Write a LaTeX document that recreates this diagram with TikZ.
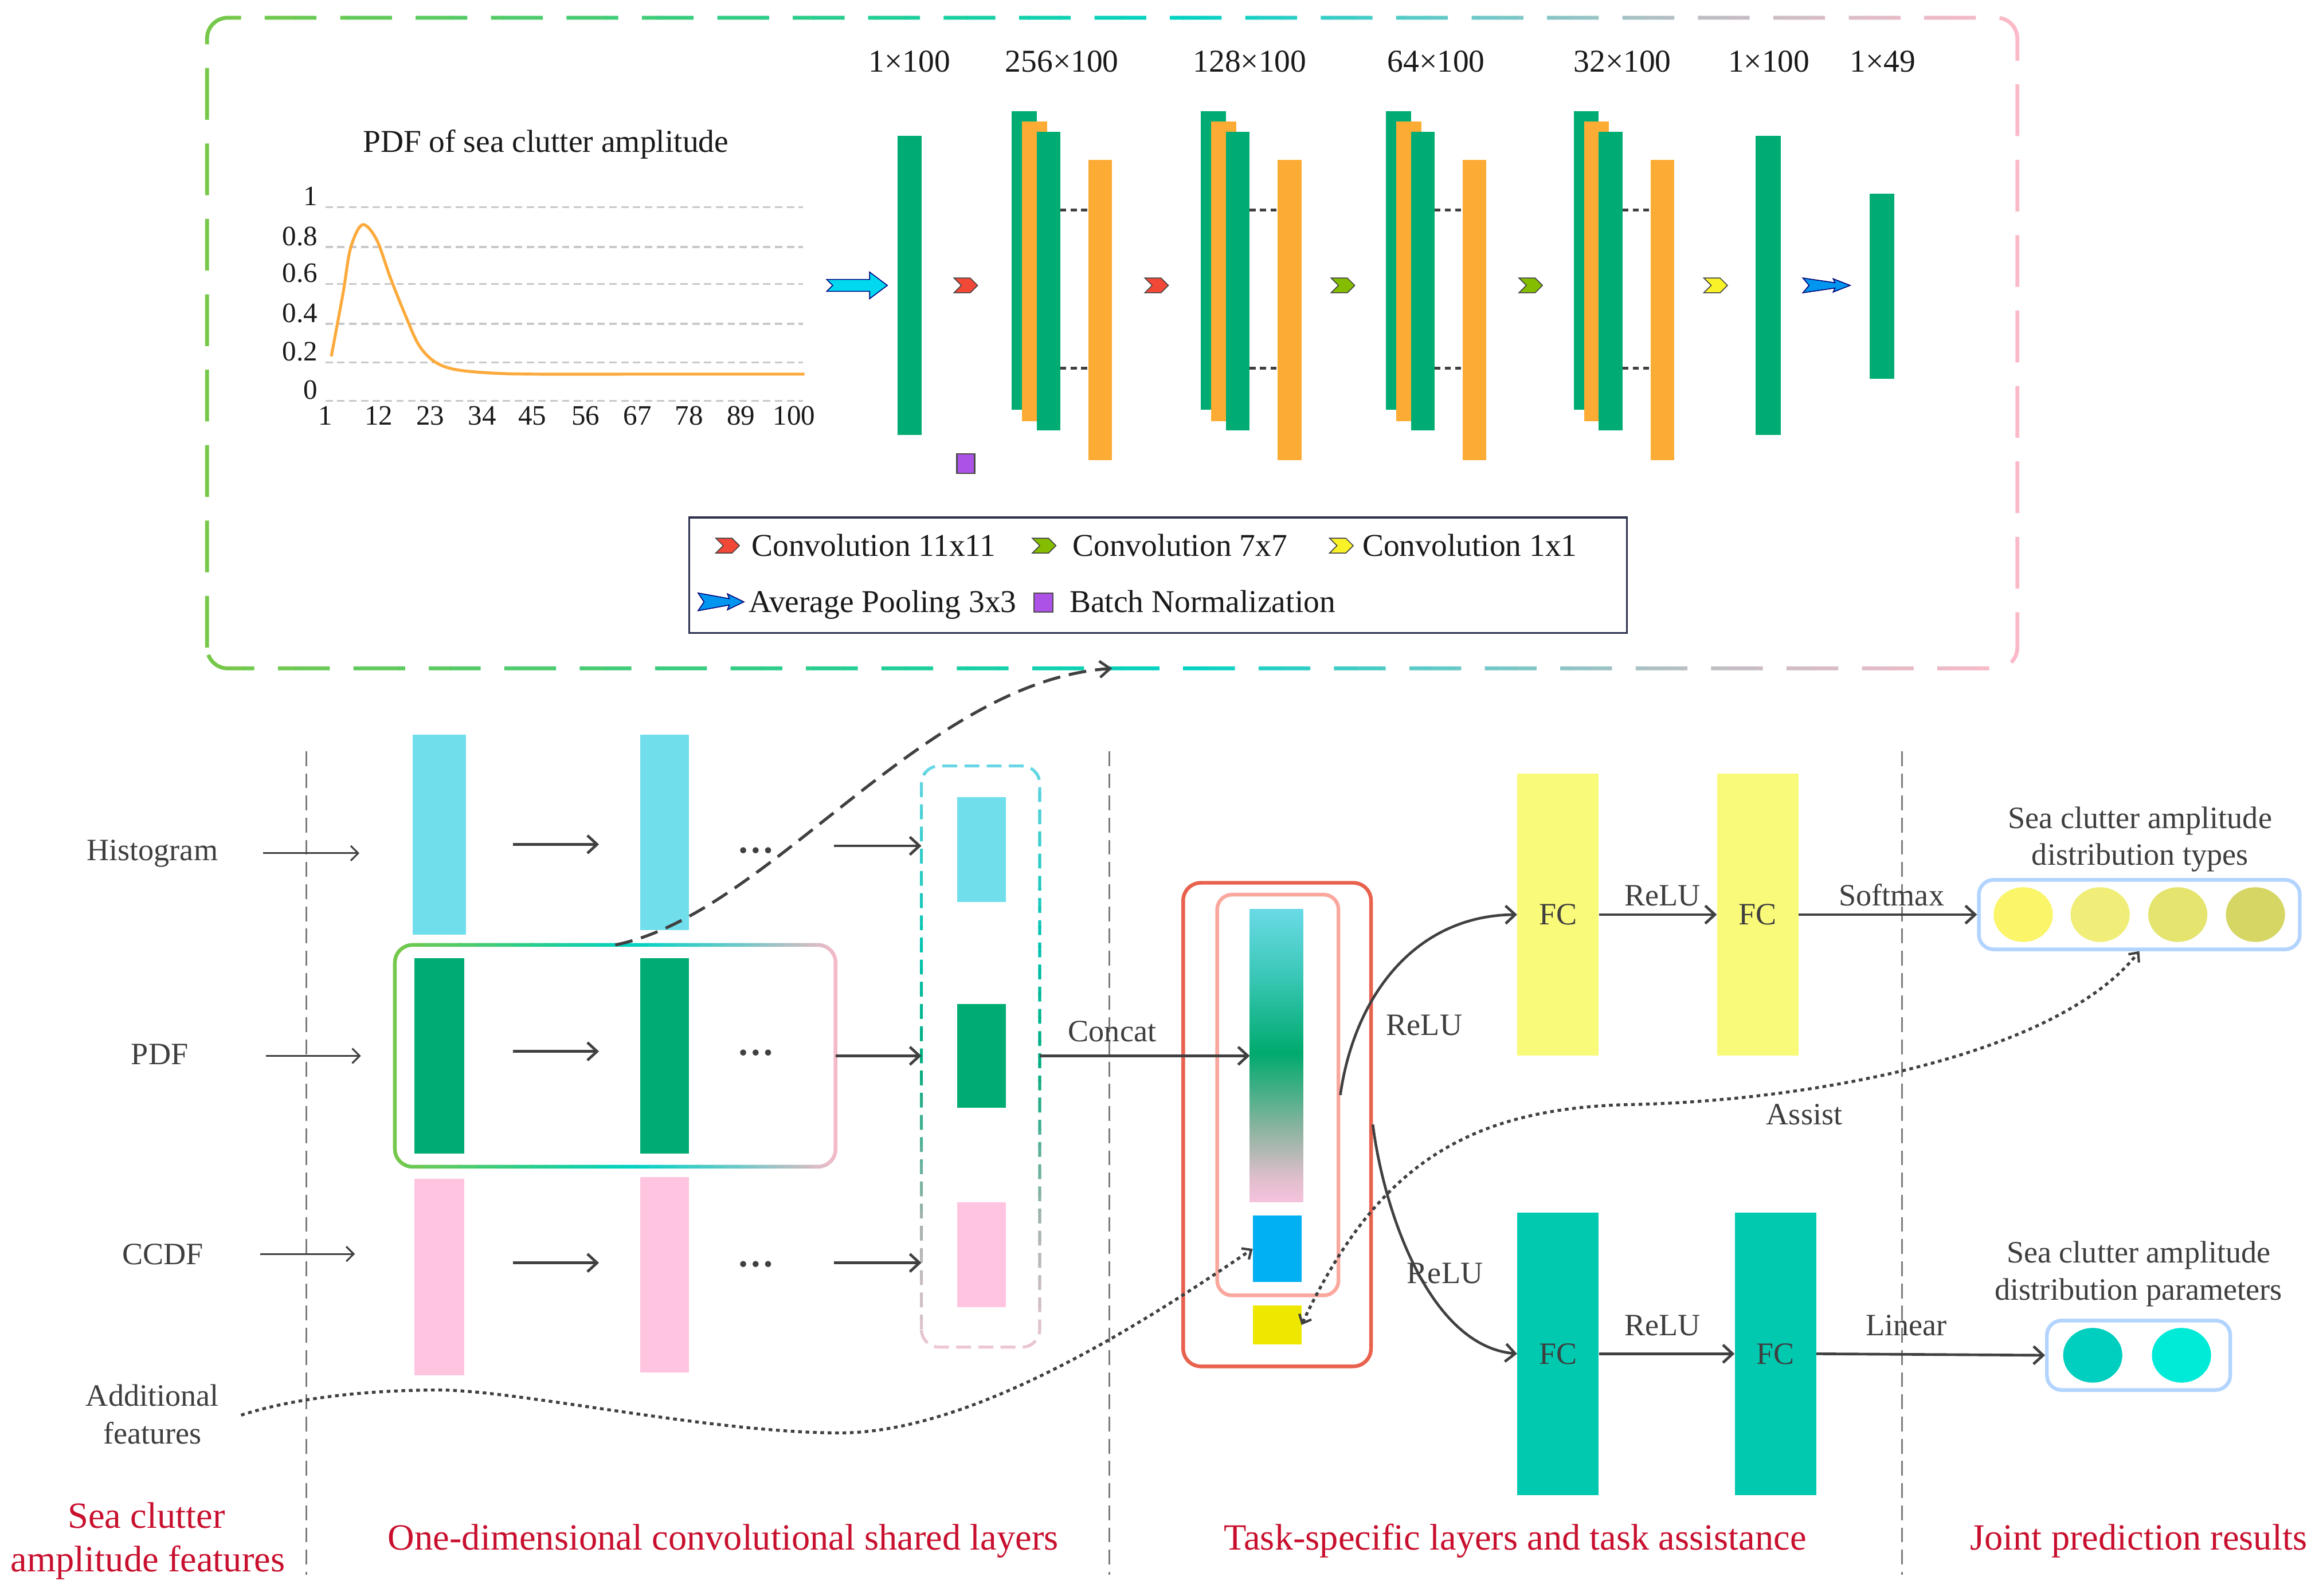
\documentclass[tikz,border=0pt]{standalone}
\usepackage{fontspec}
\setmainfont{Liberation Serif}
\usetikzlibrary{arrows.meta,shapes.geometric,calc}

\definecolor{cgreen}{RGB}{0,172,115}
\definecolor{corange}{RGB}{252,172,52}
\definecolor{ccyan}{RGB}{112,222,235}
\definecolor{cpink}{RGB}{255,196,224}
\definecolor{cfcy}{RGB}{250,250,122}
\definecolor{cfct}{RGB}{0,201,176}
\definecolor{cred}{RGB}{200,16,46}
\definecolor{ctext}{RGB}{62,62,62}
\definecolor{cline}{RGB}{64,64,64}
\definecolor{csep}{RGB}{125,125,125}
\definecolor{cgrid}{RGB}{200,200,200}
\definecolor{ccurve}{RGB}{253,170,60}
\definecolor{credbox}{RGB}{232,98,78}
\definecolor{cpinkbox}{RGB}{250,168,158}
\definecolor{cblue}{RGB}{0,176,242}
\definecolor{cyel}{RGB}{238,232,0}
\definecolor{ccircb}{RGB}{178,212,255}
\definecolor{cpurple}{RGB}{172,82,230}
\definecolor{cchr}{RGB}{242,72,56}
\definecolor{cchg}{RGB}{132,188,0}
\definecolor{cchy}{RGB}{250,242,40}
\definecolor{carrc}{RGB}{0,216,240}
\definecolor{carrb}{RGB}{0,150,240}
\definecolor{cnavy}{RGB}{45,50,80}
\definecolor{ct1}{RGB}{250,245,105}
\definecolor{ct2}{RGB}{240,238,120}
\definecolor{ct3}{RGB}{228,228,110}
\definecolor{ct4}{RGB}{214,214,100}
\definecolor{cp1}{RGB}{0,206,190}
\definecolor{cp2}{RGB}{0,234,216}
\definecolor{gA}{RGB}{122,200,70}
\definecolor{gB}{RGB}{40,205,140}
\definecolor{gC}{RGB}{0,210,195}
\definecolor{gD}{RGB}{110,200,200}
\definecolor{gE}{RGB}{190,190,195}
\definecolor{gF}{RGB}{255,185,200}
\definecolor{vA}{RGB}{110,215,232}
\definecolor{vB}{RGB}{0,195,175}
\definecolor{vC}{RGB}{0,172,125}
\definecolor{vD}{RGB}{165,178,175}
\definecolor{vE}{RGB}{242,200,215}
\definecolor{gs0}{RGB}{245,195,222}
\definecolor{gs1}{RGB}{225,190,205}
\definecolor{gs2}{RGB}{140,180,160}
\definecolor{gs3}{RGB}{0,170,110}
\definecolor{gs4}{RGB}{60,200,185}
\definecolor{gs5}{RGB}{105,218,230}
\pgfdeclareverticalshading{gbarshade}{100bp}{color(0bp)=(gs0); color(25bp)=(gs0); color(29bp)=(gs1); color(37.5bp)=(gs2); color(50.5bp)=(gs3); color(64bp)=(gs4); color(75bp)=(gs5); color(100bp)=(gs5)}

\newcommand\rbar[6]{\node[bar,fill=#6,minimum width={(#4)-(#2)},minimum height={(#5)-(#3)}] (#1) at ({((#2)+(#4))/2},{((#3)+(#5))/2}) {};}
\newcommand\chev[3]{\filldraw[chevline,fill=#3] ({#1-8},{#2-5}) -- ({#1+3},{#2-5}) -- ({#1+8},{#2}) -- ({#1+3},{#2+5}) -- ({#1-8},{#2+5}) -- ({#1-3},{#2}) -- cycle;}
\newcommand\poolarr[4]{\filldraw[draw=blue!45!black,line width=0.6pt,fill=carrb] ({#1},{#2-#4/2}) -- ({#1+0.68*#3},{#2-#4*0.18}) -- ({#1+0.64*#3},{#2-#4*0.45}) -- ({#1+#3},{#2}) -- ({#1+0.64*#3},{#2+#4*0.45}) -- ({#1+0.68*#3},{#2+#4*0.18}) -- ({#1},{#2+#4/2}) -- ({#1+0.13*#3},{#2}) -- cycle;}
\newcommand\grp[2]{%
 \rbar{#1a}{#2}{75}{#2+17}{277}{cgreen}
 \rbar{#1b}{#2+7}{82}{#2+24}{285}{corange}
 \rbar{#1c}{#2+17}{89}{#2+33}{291}{cgreen}
 \rbar{#1d}{#2+52}{108}{#2+68}{311}{corange}
 \draw[conn] (#1c.east |- 0,142) -- (#1d.west |- 0,142);
 \draw[conn] (#1c.east |- 0,249) -- (#1d.west |- 0,249);}

\begin{document}
\begin{tikzpicture}[x=1pt,y=-1pt,
 bar/.style={rectangle,inner sep=0pt,outer sep=0pt,draw=none},
 conn/.style={draw=cline,line width=2pt,dash pattern=on 4pt off 3pt},
 chevline/.style={draw=black!75,line width=0.6pt,line join=miter},
 arr/.style={draw=cline,line width=1.8pt,-{Straight Barb[length=6.5pt,width=12pt]}},
 inarr/.style={draw=cline,line width=1.2pt,-{Straight Barb[length=5pt,width=10pt]}},
 dotarr/.style={draw=cline,line width=2pt,dash pattern=on 2.5pt off 2.5pt,-{Straight Barb[length=5pt,width=9pt,line width=1.6pt]}},
 dotarr2/.style={draw=cline,line width=2pt,dash pattern=on 2.5pt off 2.5pt,{Straight Barb[length=5pt,width=9pt,line width=1.6pt]}-{Straight Barb[length=5pt,width=9pt,line width=1.6pt]}},
 dasharr/.style={draw=cline,line width=2pt,dash pattern=on 12pt off 6pt,-{Straight Barb[length=7pt,width=11pt,line width=1.8pt]}},
 lbl/.style={text=ctext,font=\fontsize{21}{25}\selectfont,inner sep=1pt},
 toplbl/.style={text=black!90,font=\fontsize{21.5}{25}\selectfont,inner sep=1pt},
 axl/.style={text=black!90,font=\fontsize{19}{22}\selectfont,inner sep=1pt},
 leg/.style={text=black!90,font=\fontsize{21.5}{25}\selectfont,inner sep=1pt},
 sect/.style={text=cred,font=\fontsize{25}{30}\selectfont,inner sep=1pt},
 dots/.style={text=cline,font=\fontsize{25}{28}\selectfont\bfseries,inner sep=0pt},
 sep/.style={draw=csep,line width=1.2pt,dash pattern=on 10pt off 5pt},
 gridl/.style={draw=cgrid,line width=1.3pt,dash pattern=on 5pt off 3pt},
 topframe/.style={line width=2.6pt,rounded corners=14pt,dash pattern=on 35pt off 16pt},
 colframe/.style={line width=2pt,rounded corners=12pt,dash pattern=on 10pt off 5pt},
 pdfframe/.style={line width=2.5pt,rounded corners=12pt},
 fc/.style={rectangle,inner sep=0pt,minimum width=55,minimum height=191,text=ctext,font=\fontsize{21}{25}\selectfont},
 cbox/.style={rectangle,draw=ccircb,line width=2.5pt,rounded corners=10pt,inner sep=0pt},
 circ/.style={ellipse,inner sep=0pt,minimum width=40,minimum height=37,draw=none}]
\useasboundingbox (0,0) rectangle (1568,1079);
\fill[white] (0,0) rectangle (1568,1079);

%% ---------------- top panel frame (gradient dashed) ----------------
\node[bar,minimum width=1224,minimum height=440] (toppanel) at (752,232) {};
\foreach \xa/\xb/\ca/\cb in {130/550/gA/gB,550/800/gB/gC,800/1000/gC/gD,1000/1150/gD/gE,1150/1375/gE/gF}{
 \foreach \k in {0,...,11}{
  \pgfmathsetmacro\xlo{\xa+(\xb-\xa)*\k/12-0.5}
  \pgfmathsetmacro\xhi{\xa+(\xb-\xa)*(\k+1)/12+0.5}
  \pgfmathtruncatemacro\pcx{100-(\k+0.5)*100/12}
  \begin{scope}
   \clip (\xlo,0) rectangle (\xhi,470);
   \draw[topframe,draw=\ca!\pcx!\cb] (toppanel.south west) rectangle (toppanel.north east);
  \end{scope}}}

%% ---------------- chart ----------------
\node[toplbl,anchor=base] (charttitle) at (369,103) {PDF of sea clutter amplitude};
\foreach \yy/\v in {140/1,167/0.8,192/0.6,219/0.4,245/0.2,271/0}{
 \draw[gridl] (220,\yy) -- (543,\yy);
 \node[axl,anchor=base east] (yl\yy) at (216,\yy-1) {\v};}
\foreach \v/\xx in {1/220,12/256,23/291,34/326,45/360,56/396,67/431,78/466,89/501,100/537}
 \node[axl,anchor=base] (xl\v) at (\xx,287.5) {\v};
\draw[ccurve,line width=2pt] plot[smooth,tension=0.55] coordinates {(224,241) (232,198) (237,168) (245,152) (254.6,162) (264,188) (274,213) (283,233) (293,244) (306,249.5) (328,252) (360,253) (450,253) (544,253)};

%% ---------------- network ----------------
\filldraw[draw=blue!50!black,line width=0.6pt,fill=carrc] (559,189) -- (588,189) -- (588,184) -- (600,193) -- (588,202) -- (588,197) -- (559,197) -- (563,193) -- cycle;
\rbar{in0}{607}{92}{623}{294}{cgreen}
\chev{653}{193}{cchr}
\filldraw[draw=black!70,line width=0.8pt,fill=cpurple] (647,307) rectangle (659,320);
\grp{ga}{684}
\chev{782}{193}{cchr}
\grp{gb}{812}
\chev{908}{193}{cchg}
\grp{gc}{937}
\chev{1035}{193}{cchg}
\grp{gd}{1064}
\chev{1160}{193}{cchy}
\rbar{out1}{1187}{92}{1204}{294}{cgreen}
\poolarr{1219}{193}{32}{10}
\rbar{out2}{1264}{131}{1281}{256}{cgreen}
\foreach \t/\xx/\nm in {1×100/615/d1,256×100/718/d2,128×100/845/d3,64×100/971/d4,32×100/1097/d5,1×100/1196/d6,1×49/1273/d7}
 \node[toplbl,anchor=base] (\nm) at (\xx,48.5) {\t};

%% ---------------- legend ----------------
\node[rectangle,draw=cnavy,line width=1.3pt,inner sep=0pt,minimum width=634,minimum height=78] (legend) at (783,389) {};
\chev{492}{369}{cchr}
\node[leg,anchor=base west] (lg1) at (507,376) {Convolution 11x11};
\chev{706}{369}{cchg}
\node[leg,anchor=base west] (lg2) at (724,376) {Convolution 7x7};
\chev{907}{369}{cchy}
\node[leg,anchor=base west] (lg3) at (920,376) {Convolution 1x1};
\poolarr{472}{407}{31}{12}
\node[leg,anchor=base west] (lg4) at (505,414) {Average Pooling 3x3};
\filldraw[draw=black!70,line width=0.8pt,fill=cpurple] (699,401) rectangle (712,414);
\node[leg,anchor=base west] (lg5) at (722,414) {Batch Normalization};

%% ---------------- separators ----------------
\draw[sep] (207,508) -- (207,1065);
\draw[sep] (750,508) -- (750,1065);
\draw[sep] (1286,508) -- (1286,1065);

%% ---------------- inputs ----------------
\node[lbl,anchor=base] (hist) at (103,582) {Histogram};
\node[lbl,anchor=base] (pdfl) at (108,720) {PDF};
\node[lbl,anchor=base] (ccdf) at (110,855) {CCDF};
\node[lbl,anchor=base] (addf1) at (103,951) {Additional};
\node[lbl,anchor=base] (addf2) at (103,976.5) {features};

\rbar{h1}{279}{497}{315}{632}{ccyan}
\rbar{h2}{433}{497}{466}{629}{ccyan}
\rbar{p1}{280}{648}{314}{780}{cgreen}
\rbar{p2}{433}{648}{466}{780}{cgreen}
\rbar{c1}{280}{797}{314}{930}{cpink}
\rbar{c2}{433}{796}{466}{928}{cpink}

\coordinate (hin) at (178,577);
\coordinate (pin) at (180,714);
\coordinate (cin) at (176,848);
\draw[inarr] (hin) -- ($(hin -| h1.west)+(-36,0)$);
\draw[inarr] (pin) -- ($(pin -| p1.west)+(-36,0)$);
\draw[inarr] (cin) -- ($(cin -| c1.west)+(-40,0)$);

\draw[arr] ($(h1.east)+(32,6.5)$) -- ($(h2.west)+(-28,8)$);
\draw[arr] ($(p1.east)+(33,-3)$) -- ($(p2.west)+(-28,-3)$);
\draw[arr] ($(c1.east)+(33,-9.5)$) -- ($(c2.west)+(-28,-8)$);
\node[dots] (hd) at (511,575) {…};
\node[dots] (pd) at (511,712) {…};
\node[dots] (cd) at (511,855) {…};

%% PDF box frame (gradient)
\node[bar,minimum width=298,minimum height=150] (pdfbox) at (416,714) {};
\foreach \xa/\xb/\ca/\cb in {262/360/gA/gB,360/430/gB/gC,430/500/gC/gD,500/540/gD/gE,540/572/gE/gF}{
 \foreach \k in {0,...,7}{
  \pgfmathsetmacro\xlo{\xa+(\xb-\xa)*\k/8-0.4}
  \pgfmathsetmacro\xhi{\xa+(\xb-\xa)*(\k+1)/8+0.4}
  \pgfmathtruncatemacro\pcx{100-(\k+0.5)*100/8}
  \begin{scope}
   \clip (\xlo,625) rectangle (\xhi,800);
   \draw[pdfframe,draw=\ca!\pcx!\cb] (pdfbox.south west) rectangle (pdfbox.north east);
  \end{scope}}}

%% column box
\node[bar,minimum width=80,minimum height=393] (colbox) at (663,714.5) {};
\foreach \ya/\yb/\ca/\cb in {510/640/vA/vB,640/720/vB/vC,720/830/vC/vD,830/920/vD/vE}{
 \foreach \k in {0,...,9}{
  \pgfmathsetmacro\ylo{\ya+(\yb-\ya)*\k/10-0.4}
  \pgfmathsetmacro\yhi{\ya+(\yb-\ya)*(\k+1)/10+0.4}
  \pgfmathtruncatemacro\pcx{100-(\k+0.5)*100/10}
  \begin{scope}
   \clip (605,\ylo) rectangle (720,\yhi);
   \draw[colframe,draw=\ca!\pcx!\cb] (colbox.south west) rectangle (colbox.north east);
  \end{scope}}}
\rbar{sh}{647}{539}{680}{610}{ccyan}
\rbar{sp}{647}{679}{680}{749}{cgreen}
\rbar{sc}{647}{813}{680}{884}{cpink}

\draw[arr] ($(h2.east)+(98,9)$) -- ($(h2.east -| colbox.west)+(0,9)$);
\draw[arr] (pdfbox.east) -- (pdfbox.east -| colbox.west);
\draw[arr] ($(c2.east)+(98,-8)$) -- ($(c2.east -| colbox.west)+(0,-8)$);

%% top curved dashed arrow
\draw[dasharr] (pdfbox.north) .. controls (520,618) and (624,461) .. (toppanel.south);

%% ---------------- task-specific ----------------
\node[rectangle,draw=credbox,line width=2.5pt,rounded corners=12pt,minimum width=127,minimum height=327,inner sep=0pt] (redbox) at (863.5,760.5) {};
\node[rectangle,draw=cpinkbox,line width=2.5pt,rounded corners=10pt,minimum width=82,minimum height=271,inner sep=0pt] (pinkbox) at (864,740.5) {};
\node[bar,minimum width=36,minimum height=198] (gbar) at (863,714) {};
\shade[shading=gbarshade] (gbar.south west) rectangle (gbar.north east);
\rbar{bsq}{847}{822}{880}{867}{cblue}
\rbar{ysq}{847}{883}{880}{909}{cyel}

\draw[arr] (colbox.east |- sp.east) -- (gbar.west |- sp.east);
\node[lbl,anchor=base] (concat) at (752,704.5) {Concat};

\node[fc,fill=cfcy] (fc1) at (1053.5,618.5) {FC};
\node[fc,fill=cfcy] (fc2) at (1188.5,618.5) {FC};
\node[fc,fill=cfct] (fc3) at (1053.5,915.5) {FC};
\node[fc,fill=cfct] (fc4) at (1200.5,915.5) {FC};

\draw[arr] (pinkbox.east) .. controls (916,672) and (958,619) .. (fc1.west);
\draw[arr] (redbox.east) .. controls (935,815) and (965,910) .. (fc3.west);
\node[lbl,anchor=base] (relu1) at (963,700) {ReLU};
\node[lbl,anchor=base] (relu2) at (977,867.7) {ReLU};

\draw[arr] (fc1.east) -- (fc2.west);
\node[lbl,anchor=base] (relu3) at (1124,612.6) {ReLU};
\draw[arr] (fc3.east) -- (fc4.west);
\node[lbl,anchor=base] (relu4) at (1124,903) {ReLU};

%% results
\node[cbox,minimum width=217,minimum height=47] (typebox) at (1446.5,618.5) {};
\node[circ,fill=ct1] (t1) at (1368,618.5) {};
\node[circ,fill=ct2] (t2) at (1420,618.5) {};
\node[circ,fill=ct3] (t3) at (1472.5,618.5) {};
\node[circ,fill=ct4] (t4) at (1525,618.5) {};
\node[cbox,minimum width=124,minimum height=47] (parbox) at (1446,916.5) {};
\node[circ,fill=cp1] (q1) at (1415,916.5) {};
\node[circ,fill=cp2] (q2) at (1475,916.5) {};

\draw[arr] (fc2.east) -- (typebox.west);
\node[lbl,anchor=base] (softmax) at (1279,612.6) {Softmax};
\draw[arr] (fc4.east) -- (parbox.west);
\node[lbl,anchor=base] (linear) at (1289,903) {Linear};

\node[lbl,anchor=base] (ttl1a) at (1447,560) {Sea clutter amplitude};
\node[lbl,anchor=base] (ttl1b) at (1447,585) {distribution types};
\node[lbl,anchor=base] (ttl2a) at (1446,854) {Sea clutter amplitude};
\node[lbl,anchor=base] (ttl2b) at (1446,879) {distribution parameters};

%% dotted assist / additional curves
\draw[dotarr2] (ysq.east) .. controls (930,790) and (990,750) .. (1100,747) .. controls (1220,745) and (1390,715) .. (typebox.south);
\node[lbl,anchor=base] (assist) at (1220,760.5) {Assist};
\coordinate (afin) at (163,957);
\draw[dotarr] (afin) .. controls (200,945) and (250,940) .. (297,940) .. controls (350,940) and (480,969) .. (568,969) .. controls (660,969) and (780,890) .. (bsq.west);

%% ---------------- section titles ----------------
\node[sect,anchor=base] (s1a) at (99,1033.5) {Sea clutter};
\node[sect,anchor=base] (s1b) at (100,1063) {amplitude features};
\node[sect,anchor=base] (s2) at (489,1048) {One-dimensional convolutional shared layers};
\node[sect,anchor=base] (s3) at (1024.5,1048) {Task-specific layers and task assistance};
\node[sect,anchor=base] (s4) at (1446,1048) {Joint prediction results};
\end{tikzpicture}
\end{document}
